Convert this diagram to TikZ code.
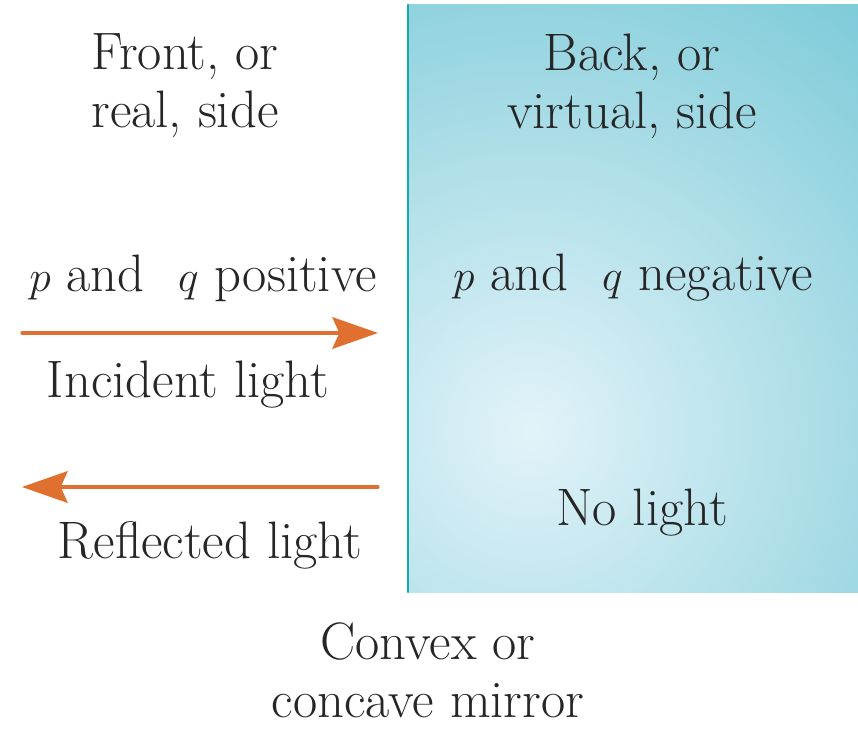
\documentclass[tikz,border=0pt]{standalone}
\usetikzlibrary{arrows.meta}

\definecolor{raycol}{RGB}{224,112,48}
\definecolor{mirrorcol}{RGB}{20,170,170}
\definecolor{backdark}{RGB}{118,200,214}
\definecolor{backlight}{RGB}{226,243,249}
\definecolor{txtcol}{RGB}{38,38,38}

\tikzset{
  label/.style={text=txtcol, align=center, inner sep=0pt, font=\fontsize{30}{33}\selectfont},
  ray/.style={draw=raycol, line width=1.8pt, -{Stealth[length=26pt, width=18pt, inset=4pt]}}
}

\begin{document}
\begin{tikzpicture}[x=0.02cm, y=-0.02cm, line cap=round, line join=round]

  % frame of the picture (pixels of the reference)
  \useasboundingbox (0,0) rectangle (858,729);

  % back side of the mirror
  \begin{scope}
    \clip (408,5) rectangle (858,592);
    \shade[inner color=backlight, outer color=backdark] (530,430) circle (580);
  \end{scope}
  \draw[mirrorcol, line width=1.3pt] (408,5) -- (408,592);

  % front side
  \node[label] (front) at (185,86) {Front, or\\real, side};
  \node[label] (pqpos) at (203,278) {$p$ and\,\, $q$ positive};
  \node[label] (incid) at (188,385) {Incident light};
  \node[label] (refl)  at (210,545) {Reflected light};

  % back side
  \node[label] (back)  at (632,86) {Back, or\\virtual, side};
  \node[label] (pqneg) at (633,278) {$p$ and\,\, $q$ negative};
  \node[label] (nolight) at (642,513) {No light};

  % mirror caption
  \node[label] (mirror) at (428,670) {Convex or\\concave mirror};

  % light rays
  \coordinate (inA) at (22,333);
  \coordinate (inB) at (378,333);
  \coordinate (reA) at (378,487);
  \coordinate (reB) at (22,487);
  \draw[ray] (inA) -- (inB);
  \draw[ray] (reA) -- (reB);

\end{tikzpicture}
\end{document}
